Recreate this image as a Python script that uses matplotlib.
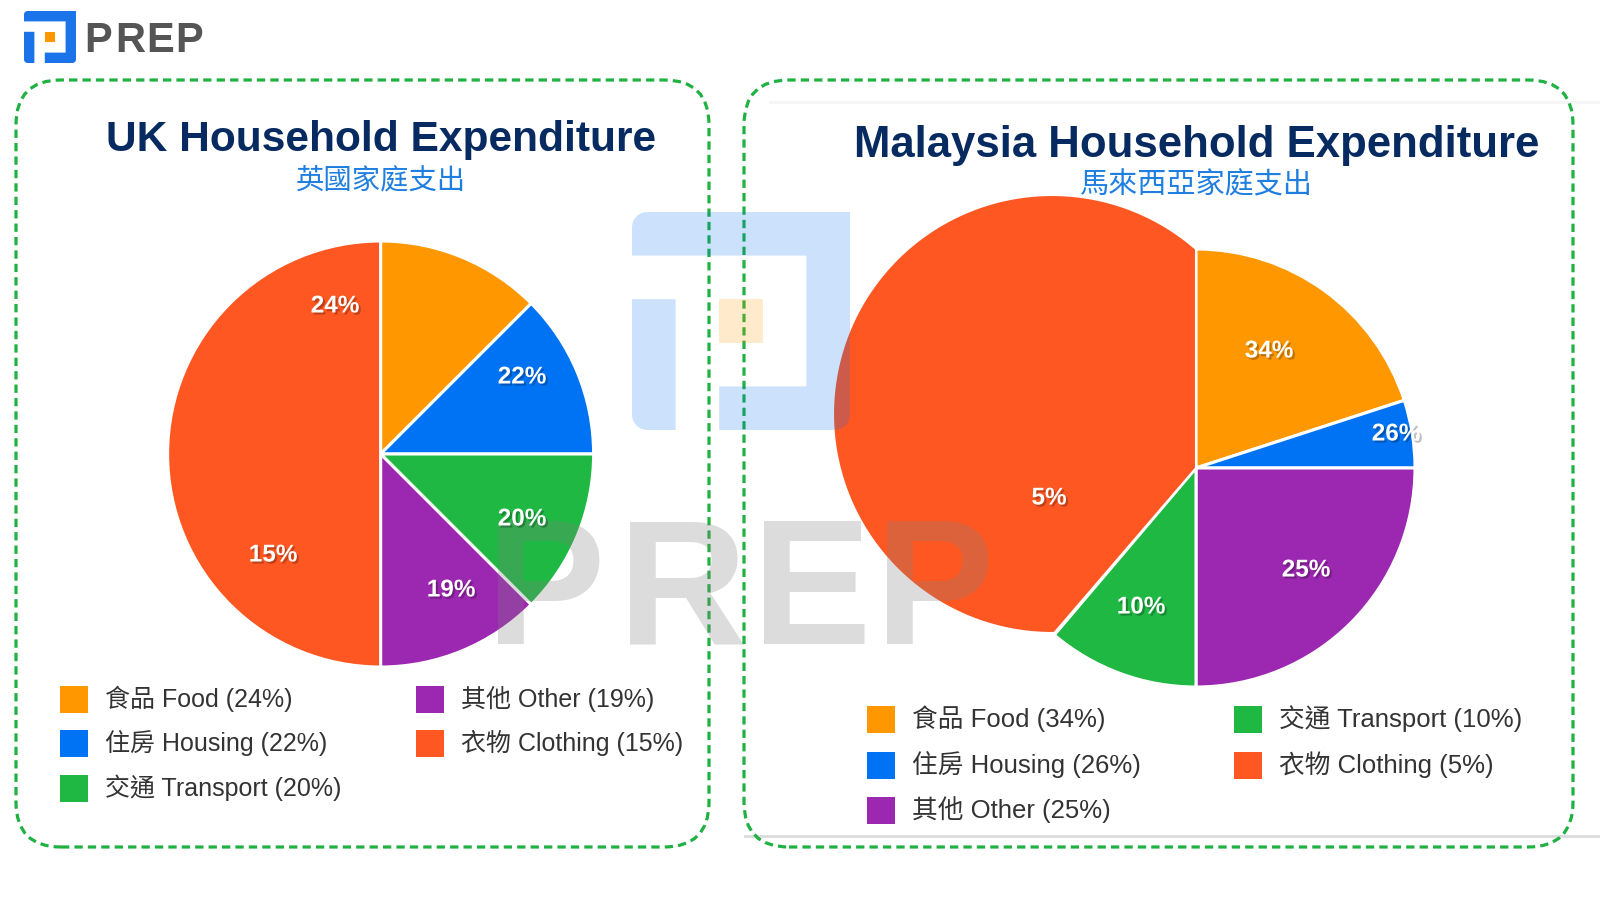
import numpy as np
import matplotlib
matplotlib.use('Agg')
import matplotlib.pyplot as plt
import matplotlib.patheffects as pe
from matplotlib.patches import FancyBboxPatch, Polygon, Rectangle

# slices as they are drawn in the picture (they do not follow the printed labels)
uk_slices = [12.5, 12.5, 12.5, 12.5, 50]
my_slices = [20, 5, 25, 11.2, 38.8]

uk_slice_colors = ['#ff9800', '#0073f5', '#1eb843', '#9c27b0', '#ff5722']
my_slice_colors = ['#ff9800', '#0073f5', '#9c27b0', '#1eb843', '#ff5722']

uk_labels = ['24%', '22%', '20%', '19%', '15%']
my_labels = ['34%', '26%', '25%', '10%', '5%']

uk_legend = ['食品 Food (24%)', '住房 Housing (22%)', '交通 Transport (20%)', '其他 Other (19%)', '衣物 Clothing (15%)']
uk_legend_colors = ['#ff9800', '#0073f5', '#1eb843', '#9c27b0', '#ff5722']
my_legend = ['食品 Food (34%)', '住房 Housing (26%)', '其他 Other (25%)', '交通 Transport (10%)', '衣物 Clothing (5%)']
my_legend_colors = ['#ff9800', '#0073f5', '#9c27b0', '#1eb843', '#ff5722']

# layout, in pixels of the 1600x900 picture, y measured from the top
uk_label_pos = [(335, 306), (522, 377), (522, 519), (451, 590), (273, 555)]
my_label_pos = [(1269, 351), (1396, 434), (1306, 570), (1141, 607), (1049, 498)]
uk_legend_pos = [(60, 686), (60, 730), (60, 775), (416, 686), (416, 730)]
my_legend_pos = [(867, 706), (867, 752), (867, 797), (1234, 706), (1234, 752)]

LATIN_CJK = ['Liberation Sans', 'Noto Sans CJK TC']
GREEN = '#1fb141'


def py(y):
    return 900 - y


def dashed_box(ax, x0, y0, x1, y1):
    box = FancyBboxPatch((x0, py(y1)), x1 - x0, y1 - y0, boxstyle='round,pad=0,rounding_size=45',
                         fc='none', ec=GREEN, lw=2.3, ls=(0, (2.6, 1.6)), zorder=0.6)
    ax.add_patch(box)


def corner(cx, cy, r, start):
    # quarter circle from angle start to start+90, for the rounded logo corners
    t = np.radians(np.linspace(start, start + 90, 8))
    return [(cx + r * np.cos(a), cy + r * np.sin(a)) for a in t]


def logo(ax, x, y, size, blue, orange, alpha, zorder):
    r = .07
    ring = corner(r, r, r, 180) + [(1, 0)] + corner(1 - r, 1 - r, r, 0) + [(.4, 1), (.4, .8), (.8, .8), (.8, .2), (0, .2)]
    left = [(0, .4), (.2, .4), (.2, 1)] + corner(r, 1 - r, r, 90)
    for shape in (ring, left):
        pts = [(x + a * size, py(y + b * size)) for a, b in shape]
        ax.add_patch(Polygon(pts, closed=True, fc=blue, ec='none', alpha=alpha, zorder=zorder))
    ax.add_patch(Rectangle((x + .4 * size, py(y + .6 * size)), .2 * size, .2 * size,
                           fc=orange, ec='none', alpha=alpha, zorder=zorder))


def spaced_word(ax, word, xs, y, **kw):
    # the brand word has wide tracking, so each letter gets its own position
    for ch, x in zip(word, xs):
        ax.text(x, py(y), ch, family='Liberation Sans', fontweight='bold', ha='left', va='baseline', **kw)


def slice_labels(ax, labels, positions):
    for lab, (x, y) in zip(labels, positions):
        t = ax.text(x, py(y), lab, color='white', fontsize=17.5, fontweight='bold', family='Liberation Sans',
                    ha='center', va='center', zorder=3)
        t.set_path_effects([pe.withSimplePatchShadow(offset=(1.5, -1.5), shadow_rgbFace='#000000', alpha=0.25)])


def legend(ax, entries, colors, positions, fontsize):
    for lab, col, (x, y) in zip(entries, colors, positions):
        ax.add_patch(Rectangle((x, py(y + 27)), 27.5, 27, fc=col, ec='none', zorder=2))
        ax.text(x + 45, py(y + 13), lab, color='#333333', fontsize=fontsize, family=LATIN_CJK,
                ha='left', va='center', zorder=3)


fig = plt.figure(figsize=(16, 9), dpi=100)
ax = fig.add_axes([0, 0, 1, 1])

# faint card edge behind the right panel
ax.plot([745, 1600], [py(836), py(836)], color='#dcdcdc', lw=2, zorder=0.5)
ax.plot([770, 1600], [py(102), py(102)], color='#f5f5f5', lw=2, zorder=0.5)

dashed_box(ax, 16, 80, 709, 847)
dashed_box(ax, 744, 80, 1573, 847)

# UK pie
ax.pie(uk_slices, colors=uk_slice_colors, center=(380.6, py(454)), radius=213, startangle=90,
       counterclock=False, frame=True, wedgeprops={'edgecolor': 'white', 'linewidth': 2.2})

# Malaysia pie: four slices round the centre, the fifth bulges out on its own circle
my_center = (1196, py(468))
my_radius = 219
my_fracs = [v / 100 for v in my_slices[:4]]
ax.pie(my_fracs, colors=my_slice_colors[:4], center=my_center, radius=my_radius, startangle=90,
       counterclock=False, normalize=False, frame=True, wedgeprops={'edgecolor': 'white', 'linewidth': 2.2})

bulge = (my_center[0] - 144, my_center[1] + 54)
end_angle = np.radians(90 - 3.6 * sum(my_slices[:4]))
p_top = (my_center[0], my_center[1] + my_radius)
p_end = (my_center[0] + my_radius * np.cos(end_angle), my_center[1] + my_radius * np.sin(end_angle))
a0 = np.arctan2(p_top[1] - bulge[1], p_top[0] - bulge[0])
a1 = np.arctan2(p_end[1] - bulge[1], p_end[0] - bulge[0]) + 2 * np.pi
arc = np.linspace(a0, a1, 200)
xs = np.concatenate([[my_center[0]], bulge[0] + my_radius * np.cos(arc)])
ys = np.concatenate([[my_center[1]], bulge[1] + my_radius * np.sin(arc)])
ax.fill(xs, ys, color=my_slice_colors[4], ec='white', lw=1.5, zorder=1.2)

# watermark sits on top of the pies
logo(ax, 632, 212, 218, '#006ff0', '#ff9800', 0.2, 2.5)
spaced_word(ax, 'PREP', [486, 618, 752, 875], 644, color='#808080', alpha=0.27, fontsize=129, zorder=2.5)

# header logo
logo(ax, 24, 11, 52, '#1a73e8', '#ff9800', 1, 3)
spaced_word(ax, 'PREP', [84, 115, 146, 175], 52, color='#555555', fontsize=30, zorder=3)

# titles
ax.text(380.6, py(140), 'UK Household Expenditure', color='#072b61', fontsize=30.6, fontweight='bold',
        family='Liberation Sans', ha='center', va='center', zorder=3)
ax.text(380.6, py(180), '英國家庭支出', color='#1f7fe0', fontsize=20.4, family='Noto Sans CJK TC',
        ha='center', va='center', zorder=3)
ax.text(1196.5, py(146), 'Malaysia Household Expenditure', color='#072b61', fontsize=31.5, fontweight='bold',
        family='Liberation Sans', ha='center', va='center', zorder=3)
ax.text(1196, py(185), '馬來西亞家庭支出', color='#1f7fe0', fontsize=21, family='Noto Sans CJK TC',
        ha='center', va='center', zorder=3)

slice_labels(ax, uk_labels, uk_label_pos)
slice_labels(ax, my_labels, my_label_pos)
legend(ax, uk_legend, uk_legend_colors, uk_legend_pos, 18)
legend(ax, my_legend, my_legend_colors, my_legend_pos, 18.5)

ax.set_xlim(0, 1600)
ax.set_ylim(0, 900)
ax.axis('off')

plt.savefig('out.png', dpi=100)
plt.close()
